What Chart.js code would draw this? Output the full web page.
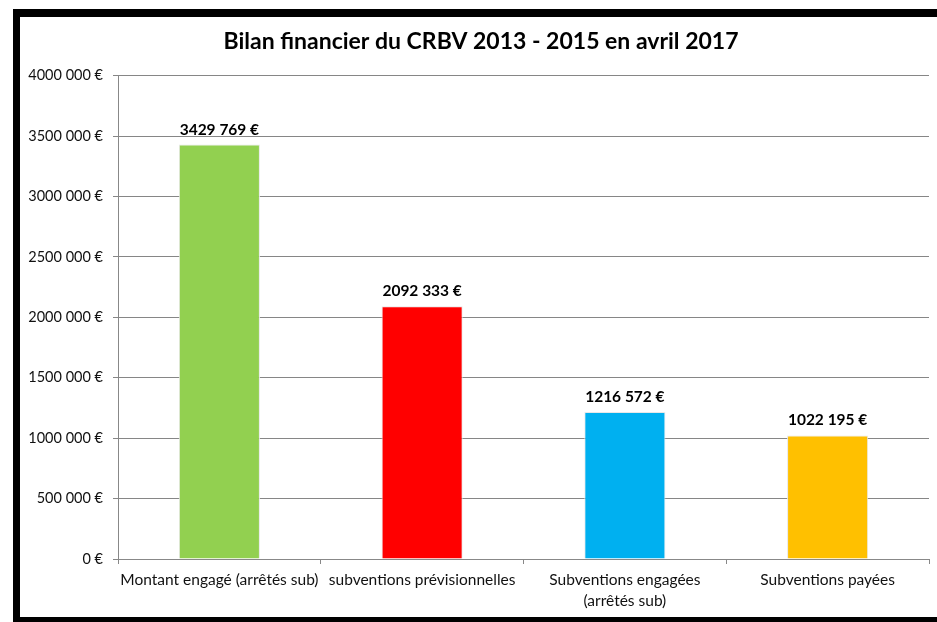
<!DOCTYPE html>
<html>
<head>
<meta charset="utf-8">
<script src="https://cdn.jsdelivr.net/npm/chart.js@4/dist/chart.umd.min.js"></script>
<style>
  html, body { margin: 0; padding: 0; background: #fff; }
  #frame {
    position: absolute;
    left: 13px;
    top: 9px;
    width: 1000px;
    height: 600px;
    border-left: 7px solid #000;
    border-top: 8px solid #000;
    border-bottom: 8px solid #000;
    background: #fff;
  }
  #chart-1 { position: absolute; left: 0; top: 0; }
</style>
</head>
<body>
<div id="frame"></div>
<canvas id="chart-1" width="937" height="622"></canvas>
<script>
const categories = [
  "Montant engagé (arrêtés sub)",
  "subventions prévisionnelles",
  ["Subventions engagées", "(arrêtés sub)"],
  "Subventions payées",
];
const amounts = [3429769, 2092333, 1216572, 1022195];
const barColors = ["#92D050", "#FF0000", "#00B0F0", "#FFC000"];
const yTicks = [0, 500000, 1000000, 1500000, 2000000, 2500000, 3000000, 3500000, 4000000];

const fontFamily = "Lato, 'Liberation Sans', sans-serif";

function euro(v) {
  let s = String(Math.round(v));
  if (s.length > 3) {
    s = s.slice(0, -3) + " " + s.slice(-3);
  }
  return s + " €";
}

// draws the value above each bar
const valueLabels = {
  id: "valueLabels",
  afterDatasetsDraw(chart) {
    const ctx = chart.ctx;
    const meta = chart.getDatasetMeta(0);
    ctx.save();
    ctx.font = "bold 15.5px " + fontFamily;
    ctx.fillStyle = "#000";
    ctx.textAlign = "center";
    ctx.textBaseline = "alphabetic";
    meta.data.forEach((bar, i) => {
      ctx.fillText(euro(amounts[i]), bar.x, bar.y - 10);
    });
    ctx.restore();
  },
};

// title is centred a bit right of the canvas middle in the original
const titleShift = {
  id: "titleShift",
  afterLayout(chart) {
    if (chart.titleBlock) {
      chart.titleBlock.left += 13;
    }
  },
};

const ctx_1 = document.getElementById("chart-1");
new Chart(ctx_1, {
  type: "bar",
  data: {
    labels: categories,
    datasets: [
      {
        label: "Bilan",
        data: amounts,
        backgroundColor: barColors,
        borderColor: "#e8e8e8",
        borderWidth: 1,
        barPercentage: 0.4,
        categoryPercentage: 1,
      },
    ],
  },
  options: {
    responsive: false,
    animation: false,
    layout: {
      padding: { left: 20, right: 8, top: 17, bottom: 0 },
    },
    plugins: {
      legend: { display: false },
      tooltip: { enabled: false },
      title: {
        display: true,
        text: "Bilan financier du CRBV 2013 - 2015 en avril 2017",
        color: "#000",
        font: { family: fontFamily, size: 23, weight: "bold", lineHeight: 1.2 },
        padding: { top: 11, bottom: 20 },
      },
    },
    scales: {
      x: {
        grid: {
          display: true,
          drawOnChartArea: false,
          drawTicks: true,
          tickLength: 5,
          color: "#888",
        },
        border: { color: "#888", width: 1 },
        ticks: {
          color: "#111",
          padding: 6,
          maxRotation: 0,
          autoSkip: false,
          font: { family: fontFamily, size: 15.5, lineHeight: 1.35 },
        },
        afterFit(scale) {
          scale.height = 63;
        },
      },
      y: {
        min: 0,
        max: 4000000,
        afterBuildTicks(scale) {
          scale.ticks = yTicks.map((v) => ({ value: v }));
        },
        grid: {
          color: "#868686",
          tickLength: 5,
          lineWidth: 1,
        },
        border: { color: "#888", width: 1 },
        ticks: {
          color: "#111",
          padding: 10,
          font: { family: fontFamily, size: 14.5 },
          callback: (v) => euro(v),
        },
        afterFit(scale) {
          scale.width = 118 - 20;
        },
      },
    },
  },
  plugins: [valueLabels, titleShift],
});
</script>
</body>
</html>
